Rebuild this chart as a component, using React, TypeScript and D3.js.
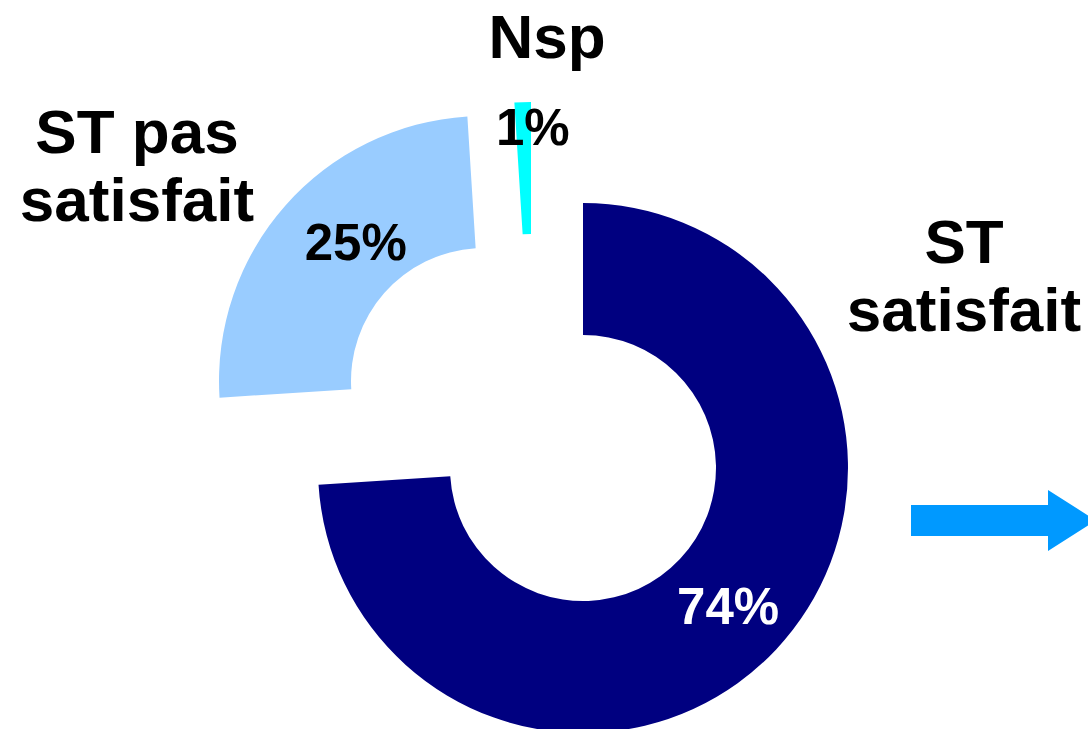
import * as d3 from "d3";
import React from "react";

// chart data
const categories = ["ST satisfait", "ST pas satisfait", "Nsp"];
const values = [74, 25, 1];
const valueLabels = ["74%", "25%", "1%"];

// looks
const colors = ["#000080", "#99CCFF", "#00FFFF"];
const explode: [number, number][] = [[0, 0], [-99, -87], [-52, -101]];
const pctNudge: [number, number][] = [[0, 2], [21, -7], [8, -41]];
// category label anchors (x centre, first baseline) and lines
const catLines = [["ST", "satisfait"], ["ST pas", "satisfait"], ["Nsp"]];
const catPos: [number, number][] = [[964, 263], [137, 153], [547, 58]];

const W = 1088;
const H = 729;
const cx = 583;
const cy = 468;
const outerR = 265;
const innerR = 133;
const font = "'Liberation Sans', Arial, sans-serif";

export default function App() {
  const pie = d3.pie<number>().sort(null).value((d) => d);
  const arcs = pie(values);
  const arc = d3.arc<d3.PieArcDatum<number>>().innerRadius(innerR).outerRadius(outerR);

  // arrow on the right
  const arrow = d3.line()([
    [911, 505], [1048, 505], [1048, 490], [1096, 520.5],
    [1048, 551], [1048, 536], [911, 536],
  ]) + "Z";

  return (
    <svg width={W} height={H} style={{ position: "absolute", left: 0, top: 0, background: "#fff" }}>
      <g transform={`translate(${cx},${cy})`}>
        {arcs.map((a, i) => (
          <path key={i} d={arc(a) || ""} fill={colors[i]} transform={`translate(${explode[i][0]},${explode[i][1]})`} />
        ))}
        {arcs.map((a, i) => {
          const [x, y] = arc.centroid(a);
          return (
            <text key={"p" + i}
              x={x + explode[i][0] + pctNudge[i][0]}
              y={y + explode[i][1] + pctNudge[i][1]}
              dy="0.35em" textAnchor="middle"
              fontFamily={font} fontWeight="bold" fontSize={51}
              fill={i === 0 ? "#fff" : "#000"}>
              {valueLabels[i]}
            </text>
          );
        })}
      </g>
      {categories.map((c, i) => (
        <text key={c} x={catPos[i][0]} y={catPos[i][1]} textAnchor="middle"
          fontFamily={font} fontWeight="bold" fontSize={62} fill="#000">
          {catLines[i].map((l, j) => (
            <tspan key={j} x={catPos[i][0]} y={catPos[i][1] + j * 68}>{l}</tspan>
          ))}
        </text>
      ))}
      <path d={arrow} fill="#0099FF" />
    </svg>
  );
}
